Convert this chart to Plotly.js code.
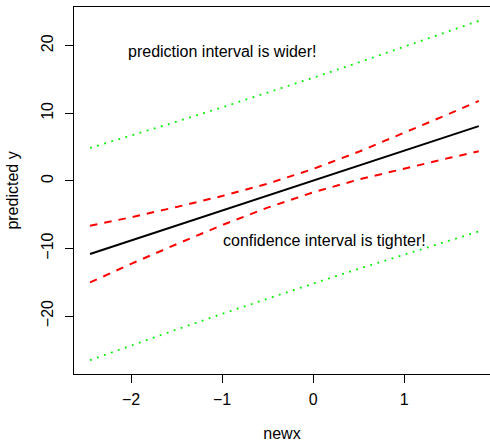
<!DOCTYPE html>
<html>
<head>
<meta charset="utf-8">
<script src="https://cdn.plot.ly/plotly-3.0.1.min.js"></script>
<style>html,body{margin:0;padding:0;background:#fff;}#chart{width:490px;height:442px;}</style>
</head>
<body>
<div id="chart"></div>
<script>
// Values
var newx      = [-2.45, -2.0, -1.5, -1.0, -0.5, 0.0, 0.5, 1.0, 1.5, 1.82];
var fitY      = [-10.83, -8.84, -6.62, -4.40, -2.19, 0.03, 2.25, 4.46, 6.68, 8.10];
var confUpper = [-6.63, -5.39, -3.87, -2.25, -0.42, 1.76, 4.30, 7.07, 9.95, 11.83];
var confLower = [-15.03, -12.29, -9.37, -6.55, -3.96, -1.70, 0.20, 1.85, 3.41, 4.37];
var predUpper = [4.87, 6.68, 8.76, 10.88, 13.04, 15.26, 17.52, 19.81, 22.16, 23.68];
var predLower = [-26.53, -24.36, -22.00, -19.68, -17.42, -15.20, -13.02, -10.89, -8.80, -7.48];
var xTicks = [-2, -1, 0, 1];
var yTicks = [-20, -10, 0, 10, 20];
var noteWider = "prediction interval is wider!";
var noteTighter = "confidence interval is tighter!";

var FONT = "Liberation Sans, Arial, Helvetica, sans-serif";
var FS = 16;

var traces = [
  {x: newx, y: fitY, mode: "lines", line: {color: "#000000", width: 2}, name: "fit"},
  {x: newx, y: confUpper, mode: "lines", line: {color: "#ff0000", width: 2, dash: "7.5px,7px"}, name: "conf upr"},
  {x: newx, y: confLower, mode: "lines", line: {color: "#ff0000", width: 2, dash: "7.5px,7px"}, name: "conf lwr"},
  {x: newx, y: predUpper, mode: "lines", line: {color: "#00f000", width: 1.8, dash: "1.8px,5.6px"}, name: "pred upr"},
  {x: newx, y: predLower, mode: "lines", line: {color: "#00f000", width: 1.8, dash: "1.8px,5.6px"}, name: "pred lwr"}
];

var layout = {
  width: 490, height: 442,
  margin: {l: 74, r: 0, t: 7, b: 68},
  paper_bgcolor: "#ffffff", plot_bgcolor: "#ffffff",
  showlegend: false,
  font: {family: FONT, size: FS, color: "#000000"},
  xaxis: {
    range: [-2.626, 1.943], tickvals: xTicks, ticktext: xTicks.map(function(v){return v<0 ? "\u2212"+Math.abs(v) : String(v);}),
    ticks: "outside", ticklen: 8, tickwidth: 1, tickcolor: "#000",
    showline: true, linecolor: "#000", linewidth: 1, mirror: true,
    showgrid: false, zeroline: false, ticklabelstandoff: 3,
    title: {text: "newx", font: {family: FONT, size: FS}, standoff: 20},
    automargin: false
  },
  yaxis: {
    range: [-28.58, 25.73], tickvals: yTicks, ticktext: yTicks.map(function(v){return v<0 ? "\u2212"+Math.abs(v) : String(v);}),
    tickangle: -90,
    ticks: "outside", ticklen: 8, tickwidth: 1, tickcolor: "#000",
    showline: true, linecolor: "#000", linewidth: 1, mirror: false,
    showgrid: false, zeroline: false, ticklabelstandoff: 6,
    title: {text: "predicted y", font: {family: FONT, size: FS}, standoff: 15},
    automargin: false
  },
  annotations: [
    {x: -1.0, y: 19.2, xref: "x", yref: "y", text: noteWider, showarrow: false, font: {family: FONT, size: FS, color: "#000"}},
    {x: 0.124, y: -8.75, xref: "x", yref: "y", text: noteTighter, showarrow: false, font: {family: FONT, size: FS, color: "#000"}}
  ]
};

Plotly.newPlot("chart", traces, layout, {displayModeBar: false, staticPlot: true});
</script>
</body>
</html>
